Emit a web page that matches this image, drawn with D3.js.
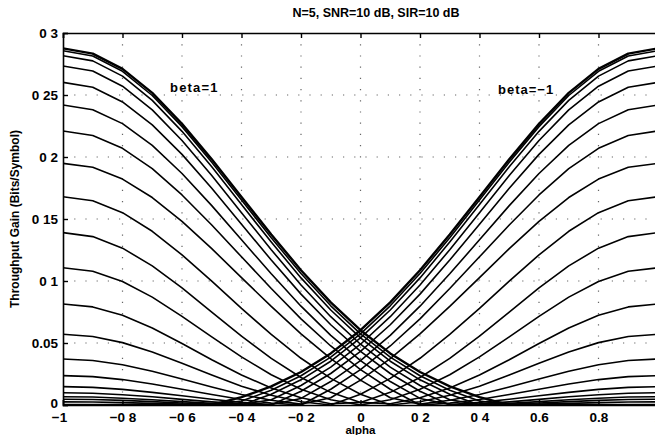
<!DOCTYPE html>
<html>
<head>
<meta charset="utf-8">
<script src="https://cdn.jsdelivr.net/npm/d3@7"></script>
<style>
  html, body { margin: 0; padding: 0; background: #fff; }
  svg { display: block; }
  text { font-family: "Liberation Sans", Arial, Helvetica, sans-serif; fill: #000; }
</style>
</head>
<body>
<svg id="chart" width="655" height="435"></svg>
<script>
// ---------------- data ----------------
const alphaValues = [-1, -0.9, -0.8, -0.7, -0.6, -0.5, -0.4, -0.3, -0.2, -0.1, 0, 0.1, 0.2, 0.3, 0.4, 0.5, 0.6, 0.7, 0.8, 0.9, 1];
const betaValues = [1, 0.9, 0.8, 0.7, 0.6, 0.5, 0.4, 0.3, 0.2, 0.1, 0, -0.1, -0.2, -0.3, -0.4, -0.5, -0.6, -0.7, -0.8, -0.9, -1];

const gain_beta_p10 = [0.2876, 0.2834, 0.2711, 0.2517, 0.2267, 0.1981, 0.1677, 0.1375, 0.1087, 0.0828, 0.0603, 0.0416, 0.0266, 0.0150, 0.0063, 0, 0, 0, 0, 0, 0];
const gain_beta_p09 = [0.2857, 0.2815, 0.2691, 0.2496, 0.2245, 0.1958, 0.1653, 0.1349, 0.1060, 0.0800, 0.0574, 0.0386, 0.0236, 0.0119, 0.0032, 0.0001, 0.0007, 0.0013, 0.0019, 0.0024, 0.0025];
const gain_beta_p08 = [0.2817, 0.2775, 0.2652, 0.2457, 0.2207, 0.1921, 0.1616, 0.1314, 0.1025, 0.0766, 0.0541, 0.0353, 0.0203, 0.0087, 0, 0.0006, 0.0016, 0.0027, 0.0037, 0.0044, 0.0046];
const gain_beta_p07 = [0.2734, 0.2693, 0.2571, 0.2380, 0.2133, 0.1850, 0.1550, 0.1252, 0.0968, 0.0712, 0.0490, 0.0306, 0.0157, 0.0043, 0.0003, 0.0013, 0.0027, 0.0042, 0.0055, 0.0064, 0.0067];
const gain_beta_p06 = [0.2602, 0.2562, 0.2444, 0.2259, 0.2021, 0.1748, 0.1458, 0.1169, 0.0894, 0.0647, 0.0432, 0.0254, 0.0111, 0, 0.0009, 0.0025, 0.0045, 0.0066, 0.0083, 0.0095, 0.0099];
const gain_beta_p05 = [0.2419, 0.2381, 0.2269, 0.2094, 0.1867, 0.1608, 0.1332, 0.1058, 0.0797, 0.0562, 0.0358, 0.0189, 0.0053, 0.0004, 0.0021, 0.0046, 0.0074, 0.0102, 0.0126, 0.0142, 0.0148];
const gain_beta_p04 = [0.2210, 0.2174, 0.2070, 0.1906, 0.1694, 0.1452, 0.1195, 0.0939, 0.0695, 0.0476, 0.0285, 0.0127, 0, 0.0015, 0.0045, 0.0084, 0.0127, 0.0169, 0.0205, 0.0229, 0.0237];
const gain_beta_p03 = [0.1949, 0.1917, 0.1822, 0.1673, 0.1481, 0.1261, 0.1027, 0.0795, 0.0574, 0.0374, 0.0201, 0.0058, 0.0007, 0.0038, 0.0085, 0.0145, 0.0209, 0.0272, 0.0324, 0.0359, 0.0371];
const gain_beta_p02 = [0.1680, 0.1647, 0.1551, 0.1401, 0.1211, 0.0999, 0.0779, 0.0569, 0.0377, 0.0215, 0.0087, 0, 0.0026, 0.0079, 0.0152, 0.0241, 0.0336, 0.0427, 0.0503, 0.0553, 0.0570];
const gain_beta_p01 = [0.1390, 0.1358, 0.1265, 0.1122, 0.0944, 0.0749, 0.0555, 0.0376, 0.0222, 0.0102, 0.0021, 0.0010, 0.0058, 0.0137, 0.0242, 0.0365, 0.0496, 0.0621, 0.0723, 0.0791, 0.0815];
const gain_beta_00  = [0.1107, 0.1078, 0.0996, 0.0870, 0.0715, 0.0549, 0.0388, 0.0244, 0.0127, 0.0043, 0, 0.0043, 0.0127, 0.0244, 0.0388, 0.0549, 0.0715, 0.0870, 0.0996, 0.1078, 0.1107];
const gain_beta_m01 = [0.0815, 0.0791, 0.0723, 0.0621, 0.0496, 0.0365, 0.0242, 0.0137, 0.0058, 0.0010, 0.0021, 0.0102, 0.0222, 0.0376, 0.0555, 0.0749, 0.0944, 0.1122, 0.1265, 0.1358, 0.1390];
const gain_beta_m02 = [0.0570, 0.0553, 0.0503, 0.0427, 0.0336, 0.0241, 0.0152, 0.0079, 0.0026, 0, 0.0087, 0.0215, 0.0377, 0.0569, 0.0779, 0.0999, 0.1211, 0.1401, 0.1551, 0.1647, 0.1680];
const gain_beta_m03 = [0.0371, 0.0359, 0.0324, 0.0272, 0.0209, 0.0145, 0.0085, 0.0038, 0.0007, 0.0058, 0.0201, 0.0374, 0.0574, 0.0795, 0.1027, 0.1261, 0.1481, 0.1673, 0.1822, 0.1917, 0.1949];
const gain_beta_m04 = [0.0237, 0.0229, 0.0205, 0.0169, 0.0127, 0.0084, 0.0045, 0.0015, 0, 0.0127, 0.0285, 0.0476, 0.0695, 0.0939, 0.1195, 0.1452, 0.1694, 0.1906, 0.2070, 0.2174, 0.2210];
const gain_beta_m05 = [0.0148, 0.0142, 0.0126, 0.0102, 0.0074, 0.0046, 0.0021, 0.0004, 0.0053, 0.0189, 0.0358, 0.0562, 0.0797, 0.1058, 0.1332, 0.1608, 0.1867, 0.2094, 0.2269, 0.2381, 0.2419];
const gain_beta_m06 = [0.0099, 0.0095, 0.0083, 0.0066, 0.0045, 0.0025, 0.0009, 0, 0.0111, 0.0254, 0.0432, 0.0647, 0.0894, 0.1169, 0.1458, 0.1748, 0.2021, 0.2259, 0.2444, 0.2562, 0.2602];
const gain_beta_m07 = [0.0067, 0.0064, 0.0055, 0.0042, 0.0027, 0.0013, 0.0003, 0.0043, 0.0157, 0.0306, 0.0490, 0.0712, 0.0968, 0.1252, 0.1550, 0.1850, 0.2133, 0.2380, 0.2571, 0.2693, 0.2734];
const gain_beta_m08 = [0.0046, 0.0044, 0.0037, 0.0027, 0.0016, 0.0006, 0, 0.0087, 0.0203, 0.0353, 0.0541, 0.0766, 0.1025, 0.1314, 0.1616, 0.1921, 0.2207, 0.2457, 0.2652, 0.2775, 0.2817];
const gain_beta_m09 = [0.0025, 0.0024, 0.0019, 0.0013, 0.0007, 0.0001, 0.0032, 0.0119, 0.0236, 0.0386, 0.0574, 0.0800, 0.1060, 0.1349, 0.1653, 0.1958, 0.2245, 0.2496, 0.2691, 0.2815, 0.2857];
const gain_beta_m10 = [0, 0, 0, 0, 0, 0, 0.0063, 0.0150, 0.0266, 0.0416, 0.0603, 0.0828, 0.1087, 0.1375, 0.1677, 0.1981, 0.2267, 0.2517, 0.2711, 0.2834, 0.2876];

const xTickValues = [-1, -0.8, -0.6, -0.4, -0.2, 0, 0.2, 0.4, 0.6, 0.8, 1];
const xTickLabels = ["\u22121", "\u22120 8", "\u22120 6", "\u22120 4", "\u22120 2", "0", "0 2", "0 4", "0.6", "0.8", "1"];
const yTickValues = [0, 0.05, 0.1, 0.15, 0.2, 0.25, 0.3];
const yTickLabels = ["0", "0.05", "0 1", "0 15", "0 2", "0 25", "0 3"];

const titleText = "N=5, SNR=10 dB, SIR=10 dB";
const xLabelText = "alpha";
const yLabelText = "Throughput Gain (Bits/Symbol)";
const curveLabels = [{text: "beta=1", beta: 1}, {text: "beta=\u22121", beta: -1}];

// ---------------- drawing ----------------
const series = [gain_beta_p10, gain_beta_p09, gain_beta_p08, gain_beta_p07, gain_beta_p06, gain_beta_p05,
  gain_beta_p04, gain_beta_p03, gain_beta_p02, gain_beta_p01, gain_beta_00, gain_beta_m01, gain_beta_m02,
  gain_beta_m03, gain_beta_m04, gain_beta_m05, gain_beta_m06, gain_beta_m07, gain_beta_m08, gain_beta_m09, gain_beta_m10];

const svg = d3.select("#chart");
const margin = {left: 63, right: 658, top: 33, bottom: 405};
const x = d3.scaleLinear().domain([-1, 1]).range([margin.left, margin.right]);
const y = d3.scaleLinear().domain([0, 0.3]).range([margin.bottom, margin.top]);

svg.append("defs").append("clipPath").attr("id", "plotclip")
  .append("rect").attr("x", margin.left).attr("y", margin.top - 2)
  .attr("width", margin.right - margin.left).attr("height", margin.bottom - margin.top + 3);

// dotted grid
const grid = svg.append("g").attr("stroke", "#000").attr("stroke-width", 1.2)
  .attr("stroke-dasharray", "1.2,10").attr("opacity", 0.6);
xTickValues.slice(1, -1).forEach(v => {
  grid.append("line").attr("x1", x(v)).attr("x2", x(v)).attr("y1", y(0.3)).attr("y2", y(0));
});
yTickValues.slice(1, -1).forEach(v => {
  grid.append("line").attr("x1", x(-1)).attr("x2", x(1)).attr("y1", y(v)).attr("y2", y(v));
});

// curves
const line = d3.line().x((d, i) => x(alphaValues[i])).y(d => y(d));
const curves = svg.append("g").attr("clip-path", "url(#plotclip)");
series.forEach((s, k) => {
  const b = betaValues[k];
  curves.append("path").datum(s).attr("d", line)
    .attr("fill", "none").attr("stroke", "#000")
    .attr("stroke-width", Math.abs(b) === 1 ? 2.4 : 1.6)
    .attr("stroke-linejoin", "round");
});

// axes
const fontTick = 13.5;
const xAxis = d3.axisBottom(x).tickValues(xTickValues)
  .tickFormat((d, i) => xTickLabels[i]).tickSize(-5).tickPadding(7);
const gx = svg.append("g").attr("transform", `translate(0,${margin.bottom})`).call(xAxis);
const xAxisTop = d3.axisTop(x).tickValues(xTickValues).tickFormat("").tickSize(-5);
const gxt = svg.append("g").attr("transform", `translate(0,${margin.top})`).call(xAxisTop);
const yAxis = d3.axisLeft(y).tickValues(yTickValues)
  .tickFormat((d, i) => yTickLabels[i]).tickSize(-5).tickPadding(5);
const gy = svg.append("g").attr("transform", `translate(${margin.left},0)`).call(yAxis);

[gx, gxt, gy].forEach(g => {
  g.select(".domain").attr("stroke", "#000").attr("stroke-width", 1.6);
  g.selectAll(".tick line").attr("stroke", "#000").attr("stroke-width", 1.4);
  g.selectAll(".tick text").attr("font-size", fontTick).attr("font-weight", "bold")
    .attr("fill", "#000").style("font-family", "'Liberation Sans', Arial, sans-serif");
});
// first x label sits slightly left of its tick, as in the original
gx.selectAll(".tick text").filter((d, i) => i === 0).attr("dx", "-4");
gy.selectAll(".tick text").filter((d, i) => i === 0).attr("dy", "0.2em");

// title and labels
svg.append("text").attr("x", 376).attr("y", 17).attr("text-anchor", "middle")
  .attr("font-size", 12.5).attr("font-weight", "bold").text(titleText);
svg.append("text").attr("x", (margin.left + margin.right) / 2).attr("y", 434)
  .attr("text-anchor", "middle").attr("font-size", 11.5).attr("font-weight", "bold").text(xLabelText);
svg.append("text").attr("transform", `translate(19,${(margin.top + margin.bottom) / 2}) rotate(-90)`)
  .attr("text-anchor", "middle").attr("font-size", 12).attr("font-weight", "bold").text(yLabelText);

// curve labels
svg.append("text").attr("x", 170).attr("y", 92).attr("font-size", 13).attr("font-weight", "bold")
  .attr("letter-spacing", 1.2).text(curveLabels[0].text);
svg.append("text").attr("x", 498).attr("y", 94).attr("font-size", 13).attr("font-weight", "bold")
  .attr("letter-spacing", 1.0).text(curveLabels[1].text);
</script>
</body>
</html>
